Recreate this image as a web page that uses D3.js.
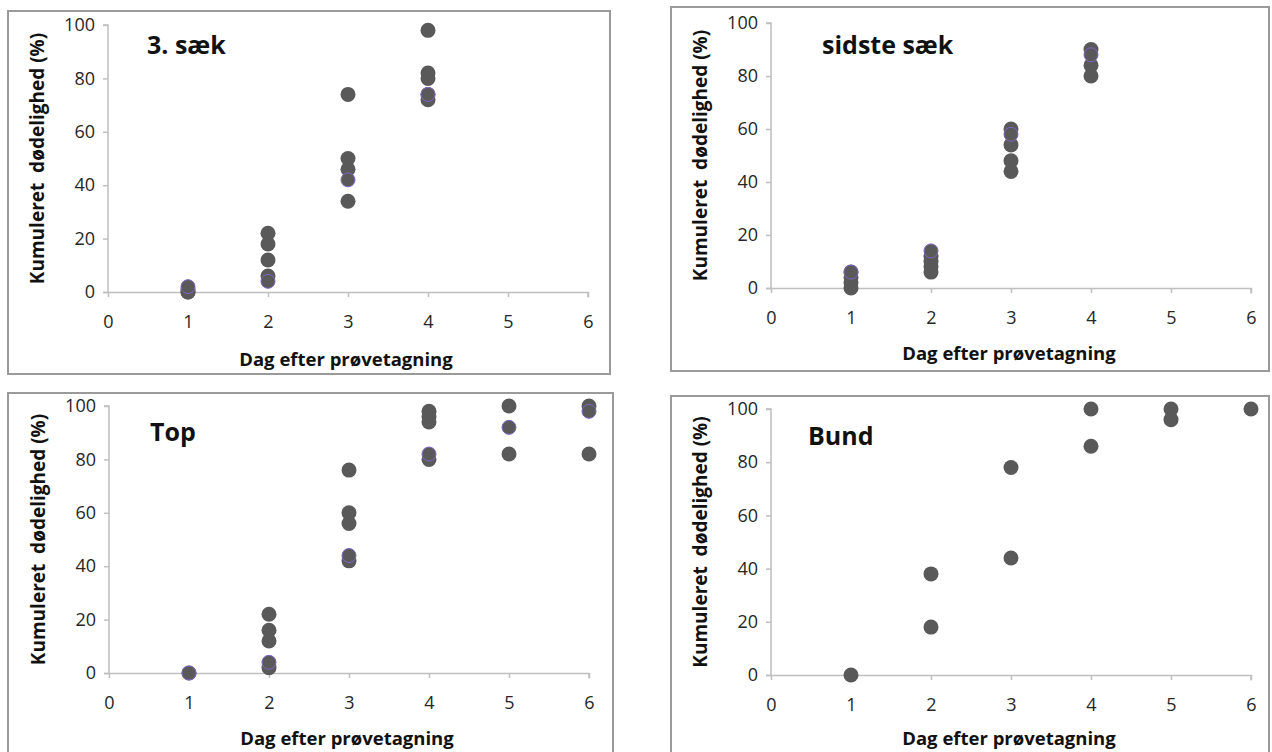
<!DOCTYPE html>
<html>
<head>
<meta charset="utf-8">
<script src="https://cdn.jsdelivr.net/npm/d3@7"></script>
<style>
  html, body { margin: 0; padding: 0; background: #fff; }
  svg { display: block; }
</style>
</head>
<body>
<svg id="chart" width="1272" height="752"></svg>
<script>
// Axis ticks shared by all four panels
const dayTicks = [0, 1, 2, 3, 4, 5, 6];
const pctTicks = [0, 20, 40, 60, 80, 100];

// "3. sæk"
const sack3Days   = [1, 1, 1, 2, 2, 2, 2, 3, 3, 3, 3, 4, 4, 4, 4, 4];
const sack3Values = [0, 0, 1, 22, 18, 12, 6, 74, 50, 46, 34, 98, 82, 80, 74, 72];
const sack3MarkDays   = [1, 2, 3, 4];
const sack3MarkValues = [2, 4, 42, 74];

// "sidste sæk"
const lastDays   = [1, 1, 1, 1, 2, 2, 2, 2, 3, 3, 3, 3, 4, 4, 4];
const lastValues = [0, 2, 4, 6, 12, 10, 8, 6, 60, 54, 48, 44, 90, 84, 80];
const lastMarkDays   = [1, 2, 3, 4];
const lastMarkValues = [6, 14, 58, 88];

// "Top"
const topDays   = [1, 2, 2, 2, 2, 3, 3, 3, 3, 4, 4, 4, 4, 5, 5, 6, 6];
const topValues = [0, 22, 16, 12, 2, 76, 60, 56, 42, 98, 96, 94, 80, 100, 82, 100, 82];
const topMarkDays   = [1, 2, 3, 4, 5, 6];
const topMarkValues = [0, 4, 44, 82, 92, 98];

// "Bund"
const bundDays   = [1, 2, 2, 3, 3, 4, 4, 5, 5, 6];
const bundValues = [0, 38, 18, 78, 44, 100, 86, 100, 96, 100];
const bundMarkDays   = [];
const bundMarkValues = [];

const xTitle = "Dag efter prøvetagning";
const yTitle = "Kumuleret  dødelighed (%)";

const panels = [
  { title: "3. sæk", days: sack3Days, values: sack3Values, markDays: sack3MarkDays, markValues: sack3MarkValues,
    box: [8, 11, 610, 374], x0: 108, x1: 588, y0: 292, y1: 25, titleX: 147, titleY: 54, xTitleY: 366 },
  { title: "sidste sæk", days: lastDays, values: lastValues, markDays: lastMarkDays, markValues: lastMarkValues,
    box: [671, 7, 1269, 371], x0: 771, x1: 1251, y0: 288, y1: 23, titleX: 822, titleY: 54, xTitleY: 360 },
  { title: "Top", days: topDays, values: topValues, markDays: topMarkDays, markValues: topMarkValues,
    box: [8, 393, 613, 760], x0: 109, x1: 589, y0: 673, y1: 406, titleX: 150, titleY: 441, xTitleY: 745 },
  { title: "Bund", days: bundDays, values: bundValues, markDays: bundMarkDays, markValues: bundMarkValues,
    box: [671, 396, 1269, 760], x0: 771, x1: 1251, y0: 675, y1: 409, titleX: 808, titleY: 445, xTitleY: 745 }
];

const svg = d3.select("#chart");
const FONT = "'Open Sans', 'Noto Sans', sans-serif";
const AXIS_COLOR = "#bfbfbf";
const DOT_FILL = "#595959";
const DOT_R = 7.5;

panels.forEach(p => {
  const g = svg.append("g");

  // outer frame
  g.append("rect")
    .attr("x", p.box[0]).attr("y", p.box[1])
    .attr("width", p.box[2] - p.box[0]).attr("height", p.box[3] - p.box[1])
    .attr("fill", "#fff").attr("stroke", "#9a9a9a").attr("stroke-width", 2);

  const x = d3.scaleLinear().domain([0, 6]).range([p.x0, p.x1]);
  const y = d3.scaleLinear().domain([0, 100]).range([p.y0, p.y1]);

  // x axis
  const xAxis = g.append("g")
    .attr("transform", `translate(0,${p.y0})`)
    .call(d3.axisBottom(x).tickValues(dayTicks).tickSize(5).tickPadding(18).tickFormat(d3.format("d")));
  // y axis
  const yAxis = g.append("g")
    .attr("transform", `translate(${p.x0},0)`)
    .call(d3.axisLeft(y).tickValues(pctTicks).tickSize(5).tickPadding(8).tickFormat(d3.format("d")));

  [xAxis, yAxis].forEach(a => {
    a.select(".domain").attr("stroke", AXIS_COLOR).attr("stroke-width", 1.5);
    a.selectAll(".tick line").attr("stroke", AXIS_COLOR).attr("stroke-width", 1.5);
    a.selectAll(".tick text").attr("fill", "#262626")
      .style("font-family", FONT).style("font-size", "18px");
  });
  // extend the x axis line to the left tick of the y axis
  xAxis.select(".domain").attr("d", `M${p.x0 - 5},0.5H${p.x1}V5.5`);
  yAxis.select(".domain").attr("d", `M-5,${p.y1}H0V${p.y0}`);

  // axis titles
  g.append("text")
    .attr("x", (p.x0 + p.x1) / 2 - 2).attr("y", p.xTitleY)
    .attr("text-anchor", "middle")
    .attr("fill", "#111")
    .style("font-family", FONT).style("font-size", "18.5px").style("font-weight", "bold")
    .text(xTitle);

  g.append("text")
    .attr("transform", `translate(${p.x0 - 64},${(p.y0 + p.y1) / 2}) rotate(-90)`)
    .attr("text-anchor", "middle")
    .attr("fill", "#111")
    .style("font-family", FONT).style("font-size", "19px").style("font-weight", "bold")
    .style("white-space", "pre")
    .attr("xml:space", "preserve")
    .text(yTitle);

  // panel title
  g.append("text")
    .attr("x", p.titleX).attr("y", p.titleY)
    .attr("fill", "#111")
    .style("font-family", FONT).style("font-size", "25px").style("font-weight", "bold")
    .text(p.title);

  // points
  const pts = p.days.map((d, i) => ({ d, v: p.values[i] }));
  g.append("g").selectAll("circle").data(pts).join("circle")
    .attr("cx", o => x(o.d)).attr("cy", o => y(o.v)).attr("r", DOT_R)
    .attr("fill", DOT_FILL);

  const marks = p.markDays.map((d, i) => ({ d, v: p.markValues[i] }));
  g.append("g").selectAll("circle").data(marks).join("circle")
    .attr("cx", o => x(o.d)).attr("cy", o => y(o.v)).attr("r", DOT_R - 0.5)
    .attr("fill", DOT_FILL).attr("stroke", "#8064c8").attr("stroke-width", 1);
});
</script>
</body>
</html>
